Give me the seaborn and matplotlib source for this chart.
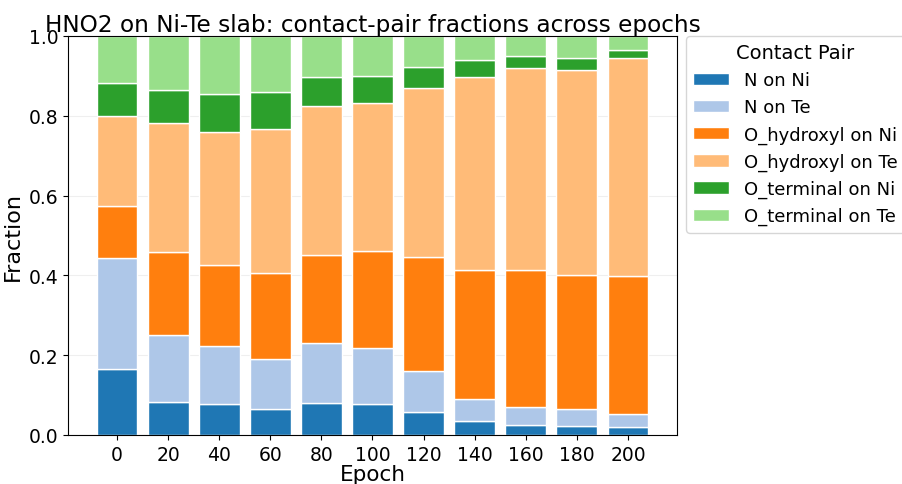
import numpy as np
import pandas as pd
import matplotlib
matplotlib.use("Agg")
import matplotlib.pyplot as plt
import seaborn as sns

# data
epochs = [0, 20, 40, 60, 80, 100, 120, 140, 160, 180, 200]
pairs = ["N on Ni", "N on Te", "O_hydroxyl on Ni", "O_hydroxyl on Te",
         "O_terminal on Ni", "O_terminal on Te"]

n_on_ni = [0.165, 0.083, 0.077, 0.066, 0.081, 0.077, 0.057, 0.034, 0.024, 0.022, 0.020]
n_on_te = [0.279, 0.168, 0.146, 0.125, 0.150, 0.141, 0.104, 0.056, 0.045, 0.042, 0.033]
ohyd_on_ni = [0.131, 0.207, 0.202, 0.215, 0.219, 0.243, 0.284, 0.324, 0.344, 0.336, 0.346]
ohyd_on_te = [0.224, 0.323, 0.335, 0.362, 0.374, 0.370, 0.425, 0.484, 0.507, 0.514, 0.547]
oterm_on_ni = [0.082, 0.084, 0.094, 0.091, 0.073, 0.069, 0.052, 0.041, 0.031, 0.031, 0.019]
oterm_on_te = [0.119, 0.135, 0.146, 0.141, 0.103, 0.100, 0.078, 0.061, 0.049, 0.055, 0.035]

colors = ["#1f77b4", "#aec7e8", "#ff7f0e", "#ffbb78", "#2ca02c", "#98df8a"]

series = [n_on_ni, n_on_te, ohyd_on_ni, ohyd_on_te, oterm_on_ni, oterm_on_te]

sns.set_style("ticks")
plt.rcParams["font.family"] = ["DejaVu Sans"]
plt.rcParams.update({"text.color": "black", "axes.labelcolor": "black",
                     "xtick.color": "black", "ytick.color": "black"})

fig = plt.figure(figsize=(9.02, 4.85), dpi=100)
ax = fig.add_axes([68 / 902, 1 - 436 / 485, (677 - 68) / 902, (436 - 37) / 485])

bottom = np.zeros(len(epochs))
for name, vals, col in zip(pairs, series, colors):
    df = pd.DataFrame({"Epoch": epochs, "Fraction": vals})
    sns.barplot(data=df, x="Epoch", y="Fraction", color=col, saturation=1,
                bottom=bottom, width=0.8, edgecolor="white", linewidth=1,
                errorbar=None, label=name, ax=ax)
    bottom = bottom + np.array(vals)

ax.set_xlim(-0.96, len(epochs) - 0.04)
ax.set_ylim(0, 1)
ax.set_axisbelow(True)
ax.grid(axis="y", alpha=0.3)
for s in ax.spines.values():
    s.set_visible(True)
    s.set_color("black")

ax.tick_params(labelsize=13.5)
ax.set_xlabel("Epoch", fontsize=15.5, labelpad=0)
ax.set_ylabel("Fraction", fontsize=16)
ax.set_title("HNO2 on Ni-Te slab: contact-pair fractions across epochs",
             fontsize=16.7, pad=3)
ax.legend(title="Contact Pair", bbox_to_anchor=(1.015, 1), loc="upper left",
          fontsize=13, title_fontsize=14, borderaxespad=0,
          handlelength=2.0, handletextpad=0.8)

fig.savefig("out.png", dpi=100)
